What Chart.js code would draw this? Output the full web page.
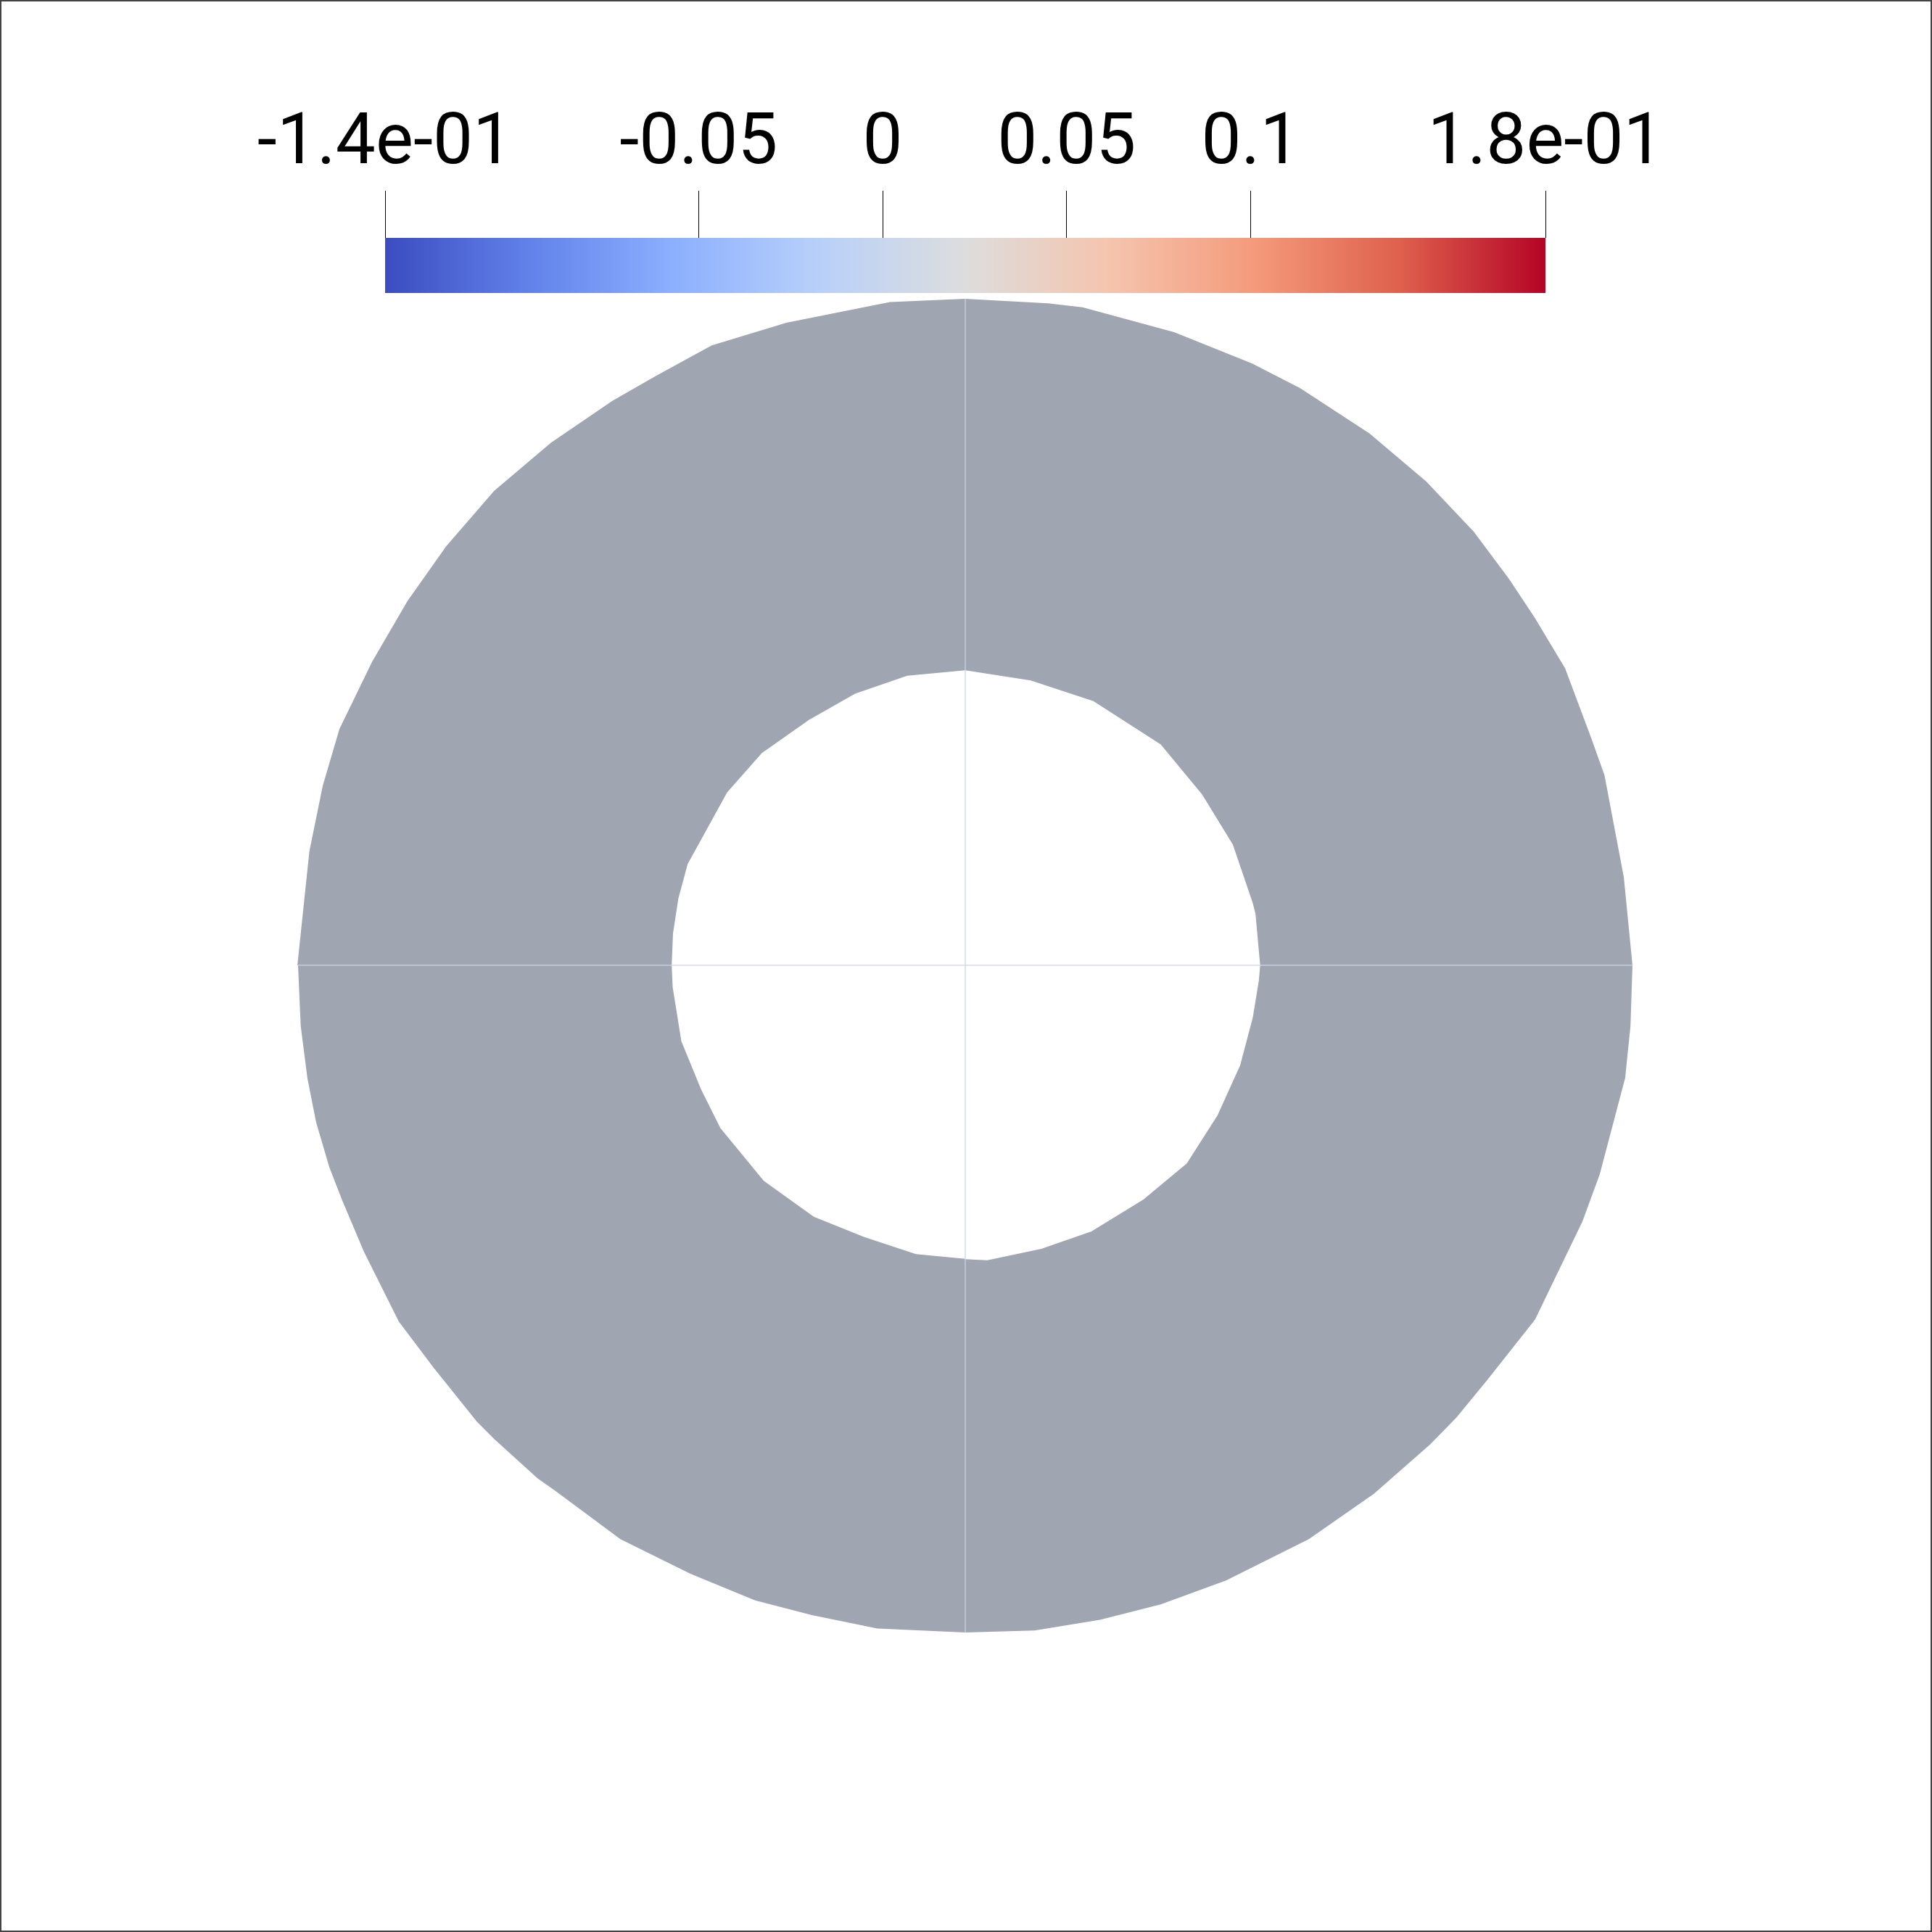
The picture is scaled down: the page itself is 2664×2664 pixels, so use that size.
<!DOCTYPE html>
<html>
<head>
<meta charset="utf-8">
<script src="https://cdn.jsdelivr.net/npm/chart.js@4.4.1/dist/chart.umd.min.js"></script>
<style>
  html, body { margin: 0; padding: 0; background: #fff; }
  #wrap { position: relative; width: 2664px; height: 2664px; overflow: hidden; }
  #ring { position: absolute; left: 0; top: 0; }
  #cbarBox { position: absolute; left: 0; top: 0; width: 2664px; height: 404px; overflow: hidden; }
  #frame { position: absolute; left: 0; top: 0; width: 2664px; height: 2664px;
           box-sizing: border-box; border: 2px solid #444; pointer-events: none; }
</style>
</head>
<body>
<div id="wrap">
  <canvas id="ring" width="2664" height="2664"></canvas>
  <div id="cbarBox"><canvas id="cbar" width="2664" height="700"></canvas></div>
  <div id="frame"></div>
</div>
<script>
// mesh outline, one quadrant per block, outer and inner boundary points (x, y)
const ulOuter = [[0, 0.999], [-0.113, 0.994], [-0.268, 0.963], [-0.380, 0.929], [-0.464, 0.883], [-0.529, 0.846],
    [-0.621, 0.783], [-0.706, 0.711], [-0.778, 0.628], [-0.836, 0.546], [-0.889, 0.455], [-0.938, 0.354],
    [-0.963, 0.269], [-0.983, 0.171], [-1.001, 0]];
const ulInner = [[0, 0.442], [-0.087, 0.434], [-0.165, 0.407], [-0.234, 0.368], [-0.305, 0.318], [-0.357, 0.259],
    [-0.396, 0.188], [-0.416, 0.152], [-0.430, 0.100], [-0.438, 0.048], [-0.440, 0]];

const urOuter = [[0, 0.999], [0.124, 0.992], [0.176, 0.986], [0.313, 0.949], [0.430, 0.902], [0.502, 0.865],
    [0.606, 0.797], [0.691, 0.725], [0.762, 0.650], [0.815, 0.579], [0.854, 0.520], [0.899, 0.445],
    [0.938, 0.341], [0.958, 0.285], [0.987, 0.132], [1.000, 0]];
const urInner = [[0, 0.442], [0.098, 0.427], [0.192, 0.396], [0.293, 0.331], [0.355, 0.256], [0.401, 0.181],
    [0.431, 0.093], [0.435, 0.077], [0.442, 0]];

const llOuter = [[-1.000, 0], [-0.996, -0.091], [-0.986, -0.169], [-0.973, -0.235], [-0.953, -0.303], [-0.934, -0.352],
    [-0.901, -0.430], [-0.849, -0.534], [-0.797, -0.603], [-0.732, -0.684], [-0.706, -0.710], [-0.641, -0.769],
    [-0.614, -0.788], [-0.517, -0.860], [-0.412, -0.912], [-0.315, -0.952], [-0.230, -0.974], [-0.132, -0.994], [0, -1.000]];
const llInner = [[-0.440, 0], [-0.4385, -0.033], [-0.4255, -0.114], [-0.396, -0.186], [-0.367, -0.244], [-0.302, -0.323],
    [-0.227, -0.377], [-0.152, -0.407], [-0.074, -0.433], [0, -0.440]];

const lrOuter = [[1.000, 0], [0.997, -0.091], [0.989, -0.169], [0.951, -0.313], [0.925, -0.384], [0.854, -0.531],
    [0.782, -0.622], [0.736, -0.678], [0.697, -0.718], [0.6125, -0.792], [0.515, -0.860], [0.391, -0.922],
    [0.293, -0.958], [0.202, -0.981], [0.104, -0.997], [0, -1.000]];
const lrInner = [[0.442, 0], [0.440, -0.023], [0.431, -0.078], [0.412, -0.150], [0.378, -0.225], [0.332, -0.297],
    [0.267, -0.351], [0.189, -0.399], [0.114, -0.425], [0.033, -0.442], [0, -0.4405]];

// block seams
const seamH = [[-1.000, 0], [1.000, 0]];
const seamV = [[0, 0.999], [0, -1.000]];

// colour bar
const cbMin = -0.1352;
const cbMax = 0.1801;
const tickValues = [cbMin, -0.05, 0, 0.05, 0.1, cbMax];
const tickLabels = ["-1.4e-01", "-0.05", "0", "0.05", "0.1", "1.8e-01"];

// Cool to Warm
const coolWarm = [
    [0.0, "rgb(59,76,192)"], [0.125, "rgb(98,130,234)"], [0.25, "rgb(141,176,254)"],
    [0.375, "rgb(184,208,249)"], [0.5, "rgb(221,221,221)"], [0.625, "rgb(245,196,173)"],
    [0.75, "rgb(244,154,123)"], [0.875, "rgb(222,96,77)"], [1.0, "rgb(180,4,38)"]
];

const meshColor = "#9fa6b2";
const seamColor = "rgba(205,213,228,0.85)";

function toPoints(list) {
    return list.map(p => ({ x: p[0], y: p[1] }));
}

function cell(outer, inner) {
    return {
        data: toPoints(outer.concat(inner.slice().reverse())),
        backgroundColor: meshColor,
        borderColor: meshColor,
        borderWidth: 0,
        fill: "shape",
        pointRadius: 0,
        tension: 0,
        order: 1
    };
}

function seam(list) {
    return {
        data: toPoints(list),
        borderColor: seamColor,
        borderWidth: 1.5,
        fill: false,
        pointRadius: 0,
        order: 0
    };
}

const ringChart = new Chart(document.getElementById("ring").getContext("2d"), {
    type: "line",
    data: {
        datasets: [
            seam(seamH),
            seam(seamV),
            cell(ulOuter, ulInner),
            cell(urOuter, urInner),
            cell(llOuter, llInner),
            cell(lrOuter, lrInner)
        ]
    },
    options: {
        responsive: false,
        animation: false,
        devicePixelRatio: 1,
        layout: { padding: 0 },
        plugins: { legend: { display: false }, tooltip: { enabled: false } },
        scales: {
            x: { type: "linear", min: -1.4467, max: 1.4489, display: false },
            y: { type: "linear", min: -1.4489, max: 1.4467, display: false }
        }
    }
});

// the bar runs past the bottom of its box, which is clipped at the bar's lower edge
const cbarChart = new Chart(document.getElementById("cbar").getContext("2d"), {
    type: "bar",
    data: {
        labels: ["bar"],
        datasets: [{
            data: [[cbMin, cbMax]],
            backgroundColor: function (context) {
                const { ctx, chartArea } = context.chart;
                if (!chartArea) return "#ddd";
                const g = ctx.createLinearGradient(chartArea.left, 0, chartArea.right, 0);
                coolWarm.forEach(s => g.addColorStop(s[0], s[1]));
                return g;
            },
            borderWidth: 0,
            borderSkipped: false,
            barPercentage: 1,
            categoryPercentage: 1
        }]
    },
    options: {
        indexAxis: "y",
        responsive: false,
        animation: false,
        devicePixelRatio: 1,
        layout: { padding: { left: 531, right: 533, top: 137.4, bottom: 0 } },
        plugins: { legend: { display: false }, tooltip: { enabled: false } },
        scales: {
            x: {
                type: "linear",
                position: "top",
                min: cbMin,
                max: cbMax,
                afterBuildTicks: axis => { axis.ticks = tickValues.map(v => ({ value: v })); },
                ticks: {
                    autoSkip: false,
                    maxRotation: 0,
                    padding: 4,
                    color: "#000",
                    font: { family: "Roboto", size: 98, weight: 400, lineHeight: 1.2 },
                    callback: (value, index) => tickLabels[index]
                },
                grid: {
                    drawOnChartArea: false,
                    drawTicks: true,
                    tickLength: 65,
                    tickColor: "#000",
                    tickWidth: 1
                },
                border: { display: false }
            },
            y: { display: false }
        }
    }
});
</script>
</body>
</html>
